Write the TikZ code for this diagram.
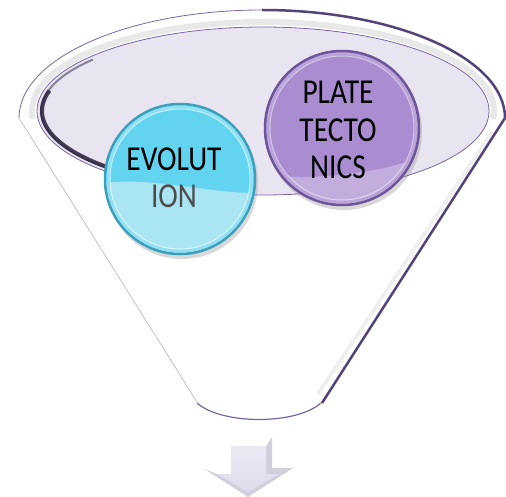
\documentclass[tikz,border=0pt]{standalone}
\usepackage{fontspec}
\setmainfont{Carlito}
\usepackage{xcolor}
\usetikzlibrary{shadows, calc}

\definecolor{rimpurple}{HTML}{54437A}
\definecolor{holefill}{HTML}{E9E5F0}
\definecolor{holeline}{HTML}{7B65A6}
\definecolor{evotop}{HTML}{62D4EF}
\definecolor{evolow}{HTML}{AAE5F4}
\definecolor{evoring}{HTML}{3E9FBD}
\definecolor{platetop}{HTML}{A98DD0}
\definecolor{platelow}{HTML}{C2ADDD}
\definecolor{platering}{HTML}{6E559A}
\definecolor{arrowface}{HTML}{DEDBEC}
\definecolor{arrowedge}{HTML}{D2CFDD}

\tikzset{
  bubble/.style={circle, inner sep=0pt,
    drop shadow={opacity=.3, shadow xshift=2pt, shadow yshift=-4pt}},
  label/.style={align=center, font=\fontsize{35}{37.5}\selectfont,
    xscale=.84, transform shape},
  rimline/.style={rimpurple, line width=2.5pt},
}

\begin{document}
\begin{tikzpicture}[x=1pt, y=-1pt]

    \useasboundingbox (0,0) rectangle (506,497);
    \coordinate (rim) at (262,118);
    \coordinate (hole) at (263,111);

    % --- Funnel body ---
    \fill[white] (rim) ++(180:243 and 108) arc[start angle=180, end angle=360, x radius=243, y radius=108]
        -- (320,402) .. controls (296,424) and (222,424) .. (197,402) -- cycle;

    % soft shading inside the rim
    \draw[black!9, line width=6pt] (hole) ++(175:231 and 89) arc[start angle=175, end angle=365, x radius=231, y radius=89];
    \draw[black!6, line width=4pt] (492,132) -- (318,394);

    % outline: thin on the left, heavy shadow on the right
    \draw[holeline, line width=.8pt] (rim) ++(180:243 and 108) arc[start angle=180, end angle=270, x radius=243, y radius=108];
    \draw[gray!70, line width=.5pt] (rim) ++(180:243 and 108) -- (197,402);
    \draw[rimline] (rim) ++(270:243 and 108) arc[start angle=270, end angle=360, x radius=243, y radius=108]
        -- (322,403);
    \draw[holeline, line width=1.2pt] (197,403) .. controls (222,425) and (296,425) .. (321,403);

    % --- Opening of the funnel ---
    \fill[holefill] (hole) ellipse[x radius=226, y radius=84];
    \draw[rimpurple!50!black, line width=2pt, opacity=.5]
        (hole) ++(110:222 and 80) arc[start angle=110, end angle=220, x radius=222, y radius=80];
    \draw[rimpurple!50!black, line width=4pt, opacity=.85]
        (hole) ++(120:221 and 79) arc[start angle=120, end angle=195, x radius=221, y radius=79];
    \draw[holeline, line width=.8pt] (hole) ellipse[x radius=226, y radius=84];

    % --- Bubbles ---
    \node[bubble, minimum size=152pt, fill=evotop,
        path picture={
            \fill[evolow] ([yshift=-4pt]path picture bounding box.west)
                .. controls +(50pt,6pt) and +(-50pt,0pt) .. ([yshift=-14pt]path picture bounding box.east)
                -- (path picture bounding box.south east) -- (path picture bounding box.south west) -- cycle;
        }] (evolution) at (180,179) {};
    \draw[evoring, line width=2.5pt] (evolution.center) circle (75);
    \draw[evotop!70!white, line width=3pt] (evolution.center) circle (72);
    \draw[white, opacity=.6, line width=1pt] (evolution.center) circle (70);
    \node[label] (evotext) at (174,178) {EVOLUT\\\textcolor{black!70}{ION}};

    \node[bubble, minimum size=156pt, fill=platetop,
        path picture={
            \fill[platelow] ([yshift=-46pt]path picture bounding box.west)
                .. controls +(50pt,-8pt) and +(-40pt,-14pt) .. ([yshift=-30pt]path picture bounding box.east)
                -- (path picture bounding box.south east) -- (path picture bounding box.south west) -- cycle;
        }] (plate) at (342,128) {};
    \draw[platering, line width=2.5pt] (plate.center) circle (77);
    \draw[platetop!80!white, line width=3pt] (plate.center) circle (74);
    \draw[white, opacity=.5, line width=1pt] (plate.center) circle (72);
    \node[label] (platetext) at (338,130) {PLATE\\TECTO\\NICS};

    % --- Arrow below the funnel ---
    \fill[arrowedge] (225,437) -- (272,437) -- (272,468) -- (293,468)
        -- (248,497) -- (203,468) -- (225,468) -- cycle;
    \fill[white] (225,437) -- (272,437) -- (266,446) -- (231,446) -- (231,474)
        -- (217,474) -- (203,468) -- (225,468) -- cycle;
    \shade[top color=arrowface!60!white, bottom color=arrowface]
        (231,446) -- (266,446) -- (266,474) -- (279,474)
        -- (248,492) -- (217,474) -- (231,474) -- cycle;

\end{tikzpicture}
\end{document}
